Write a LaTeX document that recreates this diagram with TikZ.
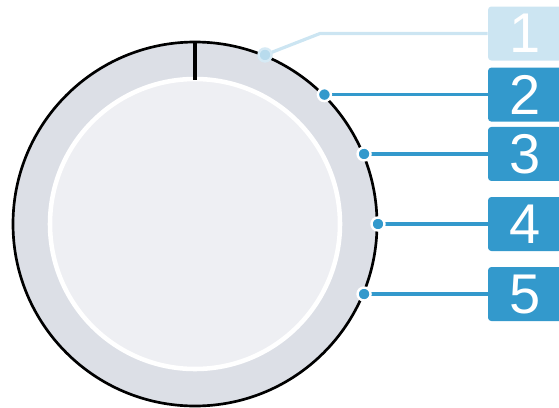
\documentclass[tikz,border=0pt]{standalone}
\usepackage{fontspec}
\setmainfont{Liberation Sans}
\usetikzlibrary{calc}
\definecolor{ring}{HTML}{DCDFE6}
\definecolor{face}{HTML}{EEEFF3}
\definecolor{callout}{HTML}{3399CC}
\definecolor{faded}{HTML}{CCE5F2}
\tikzset{
  numbox/.style={rounded corners=2.5pt,minimum width=55.5pt,minimum height=40.5pt,inner sep=0pt,
    text=white,font=\fontsize{42}{42}\selectfont},
  pin/.style={line width=2.4pt},
  dot/.style={draw=white,line width=1.8pt}
}
\begin{document}
\begin{tikzpicture}[x=0.75pt,y=-0.75pt]
  \clip (0,0) rectangle (559,407);
  \coordinate (hub) at (195,224);
  \coordinate (rail) at (525,0);
  \fill[ring] (hub) circle (182);
  \draw[white,line width=3.4pt,fill=face] (hub) circle (145);
  \draw[line width=2pt] (hub) circle (182);
  \draw[line width=3pt] ($(hub)+(-90:182)$) -- ($(hub)+(-90:144)$);

  \coordinate (d1) at ($(hub)+(-67.5:183)$);
  \coordinate (bend) at (320,33.5);
  \node[numbox,fill=faded] (lab1) at (rail |- bend) {1};
  \draw[faded,pin] (d1) -- (bend) -- (lab1.west);
  \fill[callout!35,draw=faded!80,line width=1.8pt] (d1) circle (6.5);

  \foreach \n/\a in {2/-45,3/-22.5,4/0,5/22.5}
    {\coordinate (d\n) at ($(hub)+(\a:183)$);
     \node[numbox,fill=callout] (lab\n) at (rail |- d\n) {\n};
     \draw[callout,pin] (d\n) -- (lab\n.west);
     \fill[callout,dot] (d\n) circle (6.5);}
\end{tikzpicture}
\end{document}
